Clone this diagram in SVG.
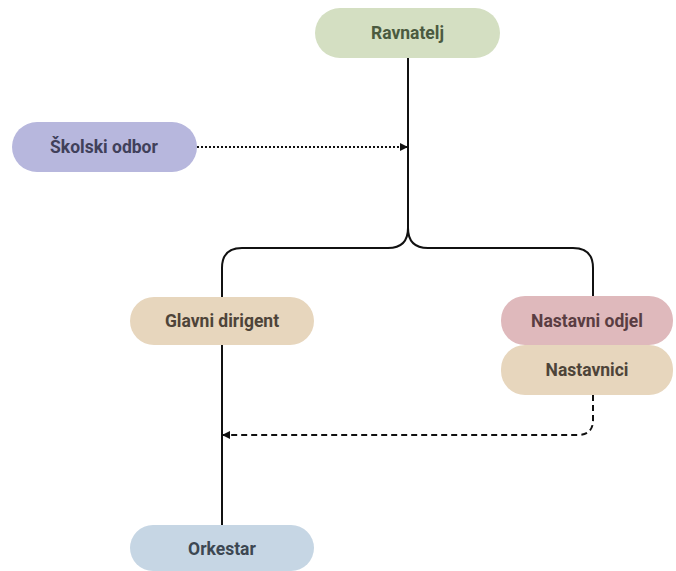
<svg xmlns="http://www.w3.org/2000/svg" width="676" height="571" viewBox="0 0 676 571">
<defs>
<style>
.lbl{font-family:Roboto,"Liberation Sans",sans-serif;font-weight:bold;font-size:17.5px;text-anchor:middle;dominant-baseline:central}
.ln{fill:none;stroke:#111;stroke-width:2}
</style>
<marker id="ah" markerWidth="8" markerHeight="8" refX="7" refY="4" orient="auto" markerUnits="userSpaceOnUse">
<path d="M0,0 L8,4 L0,8 Z" fill="#111"/>
</marker>
</defs>
<rect width="676" height="571" fill="#fff"/>
<g id="connectors">
<path class="ln" d="M408,58 V228 Q408,248 388,248 H242 Q222,248 222,268 V297"/>
<path class="ln" d="M408,228 Q408,248 428,248 H573 Q593,248 593,268 V297"/>
<path class="ln" d="M222,345 V525"/>
<path class="ln" d="M197,147 H407" stroke-dasharray="2,2" marker-end="url(#ah)"/>
<path class="ln" d="M593,395 V420 Q593,435 578,435 H223" stroke-dasharray="6,4" marker-end="url(#ah)"/>
</g>
<g id="ravnatelj">
<rect x="315" y="8" width="185" height="50" rx="25" fill="#d4dfc2"/>
<text class="lbl" x="407.5" y="33" fill="#4b5a3f">Ravnatelj</text>
</g>
<g id="skolski-odbor">
<rect x="12" y="122" width="185" height="50" rx="25" fill="#b7b7dd"/>
<text class="lbl" x="104" y="147" fill="#40405a">Školski odbor</text>
</g>
<g id="glavni-dirigent">
<rect x="130" y="297" width="184" height="48" rx="24" fill="#e7d6bd"/>
<text class="lbl" x="222" y="321" fill="#4e4439">Glavni dirigent</text>
</g>
<g id="nastavni-odjel">
<rect x="501" y="296" width="172" height="49" rx="24" fill="#dfb9bc"/>
<text class="lbl" x="587" y="320.5" fill="#5a3d42">Nastavni odjel</text>
</g>
<g id="nastavnici">
<rect x="501" y="345" width="172" height="50" rx="24" fill="#e7d6bd"/>
<text class="lbl" x="587" y="370" fill="#4e4439">Nastavnici</text>
</g>
<g id="orkestar">
<rect x="130" y="525" width="184" height="46" rx="23" fill="#c6d6e4"/>
<text class="lbl" x="222" y="549" fill="#3c4752">Orkestar</text>
</g>
</svg>
